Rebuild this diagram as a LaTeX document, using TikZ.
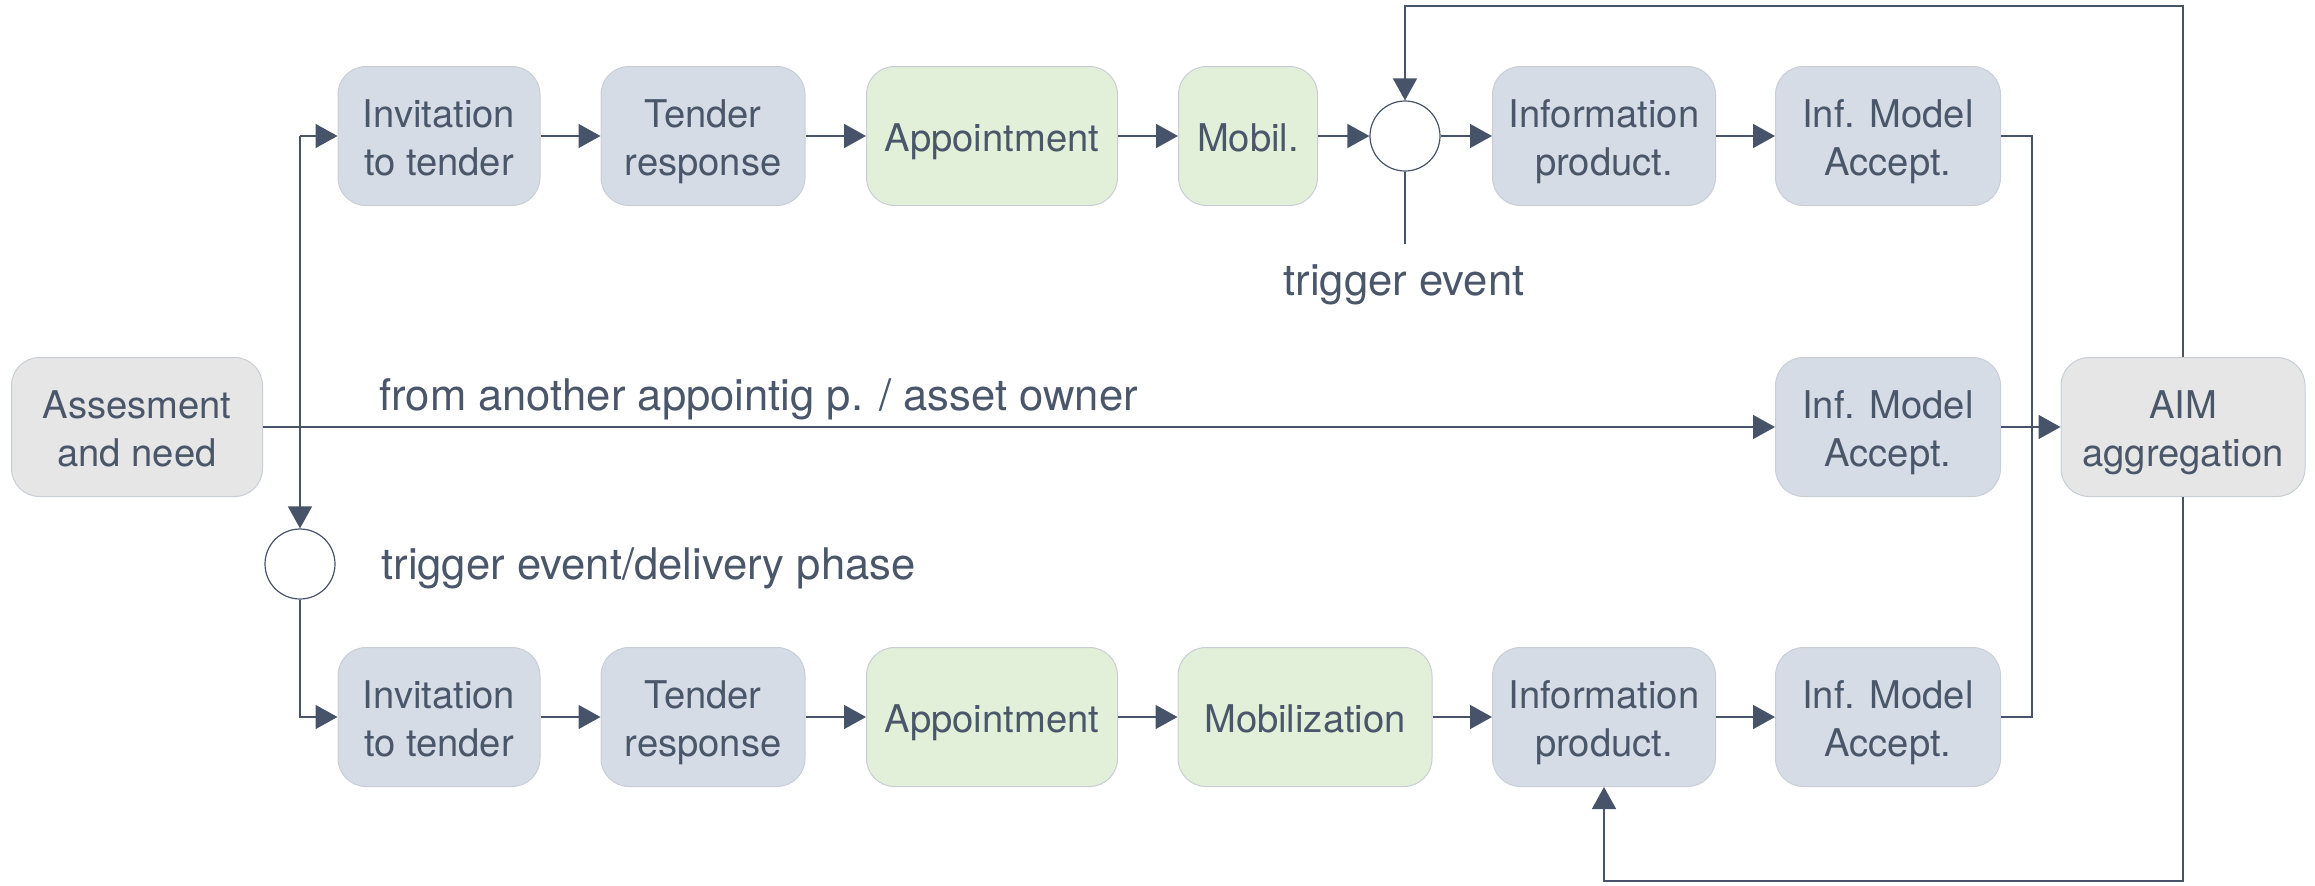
\documentclass[tikz,border=0pt]{standalone}
\usepackage{fontspec}
\setmainfont{TeX Gyre Heros}
\usetikzlibrary{arrows.meta}
\definecolor{txt}{HTML}{4A5669}
\definecolor{ln}{HTML}{465369}
\definecolor{bluef}{HTML}{D6DCE5}
\definecolor{greenf}{HTML}{E2EFD9}
\definecolor{grayf}{HTML}{E6E6E6}
\definecolor{bord}{HTML}{C9CED6}
\newcommand{\bxt}[1]{\raisebox{-2.8pt}[\height][\depth]{\begin{tabular}{@{}c@{}}#1\end{tabular}}}
\tikzset{
  box/.style={rectangle, rounded corners=14pt, draw=bord, line width=0.5pt, text=txt,
    minimum height=69.5pt, inner sep=0pt, align=center,
    font=\fontsize{19.1}{24}\selectfont},
  bluebox/.style={box, fill=bluef},
  greenbox/.style={box, fill=greenf},
  graybox/.style={box, fill=grayf},
  evt/.style={circle, draw=ln, line width=0.6pt, fill=white, minimum size=35pt, inner sep=0pt},
  lbl/.style={text=txt, inner sep=0pt, font=\fontsize{21.8}{26}\selectfont},
  conn/.style={draw=ln, line width=0.8pt},
  arr/.style={conn, -{Triangle[length=11pt,width=12pt]}}
}
\begin{document}
\begin{tikzpicture}[x=0.5pt,y=-0.5pt]
\useasboundingbox (0,0) rectangle (2315,885);
% top row
\node[bluebox, minimum width=101pt] (invT) at (439,136) {\bxt{Invitation\\to tender}};
\node[bluebox, minimum width=102pt] (tenT) at (703,136) {\bxt{Tender\\response}};
\node[greenbox, minimum width=125.5pt] (appT) at (992,136) {\bxt{Appointment}};
\node[greenbox, minimum width=69.5pt] (mobT) at (1248,136) {\bxt{Mobil.}};
\node[evt] (circT) at (1405,136) {};
\node[bluebox, minimum width=111.5pt] (infT) at (1604,136) {\bxt{Information\\product.}};
\node[bluebox, minimum width=112.5pt] (imaT) at (1888,136) {\bxt{Inf. Model\\Accept.}};
% middle row
\node[graybox, minimum width=125.5pt] (ass) at (137,427) {\bxt{Assesment\\and need}};
\node[bluebox, minimum width=112.5pt] (imaM) at (1888,427) {\bxt{Inf. Model\\Accept.}};
\node[graybox, minimum width=122pt] (aim) at (2183,427) {\bxt{AIM\\aggregation}};
% bottom
\node[evt] (circB) at (300,564) {};
\node[bluebox, minimum width=101pt] (invB) at (439,717) {\bxt{Invitation\\to tender}};
\node[bluebox, minimum width=102pt] (tenB) at (703,717) {\bxt{Tender\\response}};
\node[greenbox, minimum width=125.5pt] (appB) at (992,717) {\bxt{Appointment}};
\node[greenbox, minimum width=127pt] (mobB) at (1305,717) {\bxt{Mobilization}};
\node[bluebox, minimum width=111.5pt] (infB) at (1604,717) {\bxt{Information\\product.}};
\node[bluebox, minimum width=112.5pt] (imaB) at (1888,717) {\bxt{Inf. Model\\Accept.}};
% labels
\node[lbl, anchor=base west] (lfrom) at (379,410) {from another appointig p. / asset owner};
\node[lbl, anchor=base west] (ltrigB) at (381,579) {trigger event/delivery phase};
\node[lbl, anchor=base] (ltrigT) at (1404,295) {trigger event};
% coordinates
\coordinate (jtop) at (300,136);
\coordinate (trigEnd) at (1405,244);
\coordinate (tl) at (1405,6);
\coordinate (bl) at (1604,881);
\coordinate (busT) at (2032,136);
\coordinate (busB) at (2032,717);
% connectors
\draw[arr] (jtop) -- (invT.west);
\draw[arr] (jtop) -- (circB.north);
\draw[arr] (ass.east) -- (imaM.west);
\draw[arr] (circB.south) |- (invB.west);
\draw[arr] (invT) -- (tenT);
\draw[arr] (tenT) -- (appT);
\draw[arr] (appT) -- (mobT);
\draw[arr] (mobT) -- (circT);
\draw[arr] (circT) -- (infT);
\draw[arr] (infT) -- (imaT);
\draw[arr] (invB) -- (tenB);
\draw[arr] (tenB) -- (appB);
\draw[arr] (appB) -- (mobB);
\draw[arr] (mobB) -- (infB);
\draw[arr] (infB) -- (imaB);
\draw[conn] (circT.south) -- (trigEnd);
\draw[arr] (aim.north) |- (tl) -- (circT.north);
\draw[arr] (aim.south) |- (bl) -- (infB.south);
\draw[conn] (imaT.east) -- (busT) -- (busB) -- (imaB.east);
\draw[arr] (imaM.east) -- (aim.west);
\end{tikzpicture}
\end{document}
